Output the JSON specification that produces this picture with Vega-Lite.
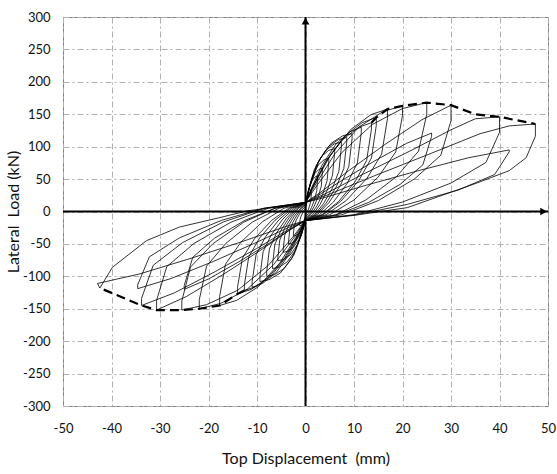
{
 "$schema": "https://vega.github.io/schema/vega-lite/v6.json",
 "width": 485,
 "height": 389,
 "autosize": "none",
 "padding": {"left": 63, "top": 17, "right": 9, "bottom": 68},
 "background": "white",
 "config": {
  "view": {"stroke": "#808080", "strokeWidth": 1},
  "font": "Lato",
  "axis": {"grid": true, "gridDash": [6,3,2,3], "gridColor": "#b0b0b0", "gridWidth": 1, "ticks": false, "domain": false,
   "labelExpr": "'' + datum.value", "labelFontSize": 13, "labelColor": "#111", "labelFlush": false, "labelOverlap": false,
   "titleFontSize": 16, "titleFontWeight": "normal", "titleColor": "#111"},
  "axisX": {"tickCount": 10, "labelPadding": 16, "titlePadding": 15},
  "axisY": {"tickCount": 12, "labelPadding": 13, "titlePadding": 1}
 },
 "datasets": {
  "loop": [
   {"x":0,"y":0},
   {"x":0.12,"y":7.5},{"x":0.36,"y":18.6},{"x":0.66,"y":25.8},{"x":0.96,"y":29.1},{"x":1.2,"y":30},{"x":1.2,"y":28},{"x":1.12,"y":17.4},{"x":0.9,"y":10.1},{"x":0.6,"y":3.4},{"x":0.3,"y":-2},{"x":0,"y":-5},
   {"x":-0.12,"y":-9.3},{"x":-0.36,"y":-15.5},{"x":-0.66,"y":-19.6},{"x":-0.96,"y":-21.5},{"x":-1.2,"y":-22},{"x":-1.2,"y":-20},{"x":-1.12,"y":-12.4},{"x":-0.9,"y":-7.2},{"x":-0.6,"y":-2.4},{"x":-0.3,"y":2},{"x":0,"y":5},
   {"x":0.25,"y":17.5},{"x":0.75,"y":36},{"x":1.38,"y":48},{"x":2.0,"y":53.5},{"x":2.5,"y":55},{"x":2.5,"y":52},{"x":2.33,"y":32.2},{"x":1.88,"y":18.7},{"x":1.25,"y":6.2},{"x":0.63,"y":-3},{"x":0,"y":-8},
   {"x":-0.25,"y":-15.5},{"x":-0.75,"y":-26.6},{"x":-1.38,"y":-33.8},{"x":-2.0,"y":-37.1},{"x":-2.5,"y":-38},{"x":-2.5,"y":-35},{"x":-2.33,"y":-21.7},{"x":-1.88,"y":-12.6},{"x":-1.25,"y":-4.2},{"x":-0.63,"y":3},{"x":0,"y":8},
   {"x":0.35,"y":22.8},{"x":1.05,"y":44.6},{"x":1.93,"y":58.7},{"x":2.8,"y":65.2},{"x":3.5,"y":67},{"x":3.5,"y":63},{"x":3.26,"y":39.1},{"x":2.63,"y":22.7},{"x":1.75,"y":7.6},{"x":0.88,"y":-4},{"x":0,"y":-10},
   {"x":-0.35,"y":-20},{"x":-1.05,"y":-34.8},{"x":-1.93,"y":-44.4},{"x":-2.8,"y":-48.8},{"x":-3.5,"y":-50},{"x":-3.5,"y":-47},{"x":-3.26,"y":-29.1},{"x":-2.63,"y":-16.9},{"x":-1.75,"y":-5.6},{"x":-0.88,"y":4},{"x":0,"y":10},
   {"x":0.48,"y":28},{"x":1.44,"y":54.6},{"x":2.64,"y":71.9},{"x":3.84,"y":79.8},{"x":4.8,"y":82},{"x":4.8,"y":77},{"x":4.46,"y":47.7},{"x":3.6,"y":27.7},{"x":2.4,"y":9.2},{"x":1.2,"y":-4},{"x":0,"y":-11},
   {"x":-0.46,"y":-24},{"x":-1.38,"y":-43.2},{"x":-2.53,"y":-55.7},{"x":-3.68,"y":-61.4},{"x":-4.6,"y":-63},{"x":-4.6,"y":-59},{"x":-4.28,"y":-36.6},{"x":-3.45,"y":-21.2},{"x":-2.3,"y":-7.1},{"x":-1.15,"y":4},{"x":0,"y":11},
   {"x":0.6,"y":32.5},{"x":1.8,"y":64.3},{"x":3.3,"y":85},{"x":4.8,"y":94.4},{"x":6,"y":97},{"x":6,"y":91},{"x":5.58,"y":56.4},{"x":4.5,"y":32.8},{"x":3,"y":10.9},{"x":1.5,"y":-5},{"x":0,"y":-12},
   {"x":-0.57,"y":-28},{"x":-1.71,"y":-51.7},{"x":-3.14,"y":-67},{"x":-4.56,"y":-74.1},{"x":-5.7,"y":-76},{"x":-5.7,"y":-71},{"x":-5.3,"y":-44},{"x":-4.28,"y":-25.6},{"x":-2.85,"y":-8.5},{"x":-1.43,"y":5},{"x":0,"y":12},
   {"x":0.74,"y":35.8},{"x":2.22,"y":70.9},{"x":4.07,"y":93.7},{"x":5.92,"y":104.2},{"x":7.4,"y":107},{"x":7.4,"y":100},{"x":6.88,"y":62},{"x":5.55,"y":36},{"x":3.7,"y":12},{"x":1.85,"y":-5},{"x":0,"y":-13},
   {"x":-0.68,"y":-31.8},{"x":-2.04,"y":-59.5},{"x":-3.74,"y":-77.5},{"x":-5.44,"y":-85.8},{"x":-6.8,"y":-88},{"x":-6.8,"y":-82},{"x":-6.32,"y":-50.8},{"x":-5.1,"y":-29.5},{"x":-3.4,"y":-9.8},{"x":-1.7,"y":5},{"x":0,"y":13},
   {"x":0.85,"y":38.3},{"x":2.55,"y":75.6},{"x":4.68,"y":99.9},{"x":6.8,"y":111},{"x":8.5,"y":114},{"x":8.5,"y":107},{"x":7.9,"y":66.3},{"x":6.38,"y":38.5},{"x":4.25,"y":12.8},{"x":2.13,"y":-5},{"x":0,"y":-14},
   {"x":-0.8,"y":-35.5},{"x":-2.4,"y":-67.3},{"x":-4.4,"y":-88},{"x":-6.4,"y":-97.4},{"x":-8,"y":-100},{"x":-8,"y":-93},{"x":-7.44,"y":-57.7},{"x":-6,"y":-33.5},{"x":-4,"y":-11.2},{"x":-2,"y":5},{"x":0,"y":14},
   {"x":0.96,"y":40.5},{"x":2.88,"y":79.7},{"x":5.28,"y":105.2},{"x":7.68,"y":116.8},{"x":9.6,"y":120},{"x":9.6,"y":112},{"x":8.93,"y":69.4},{"x":7.2,"y":40.3},{"x":4.8,"y":13.4},{"x":2.4,"y":-5},{"x":0,"y":-14},
   {"x":-0.94,"y":-37.5},{"x":-2.82,"y":-72.3},{"x":-5.17,"y":-94.8},{"x":-7.52,"y":-105.2},{"x":-9.4,"y":-108},{"x":-9.4,"y":-100},{"x":-8.74,"y":-62},{"x":-7.05,"y":-36},{"x":-4.7,"y":-12},{"x":-2.35,"y":5},{"x":0,"y":14},
   {"x":1.15,"y":34.9},{"x":3.45,"y":72},{"x":6.33,"y":104.5},{"x":9.2,"y":123},{"x":11.5,"y":130},{"x":11.5,"y":121},{"x":10.7,"y":75},{"x":8.63,"y":43.6},{"x":5.75,"y":14.5},{"x":2.88,"y":-5},{"x":0,"y":-14},
   {"x":-1.1,"y":-32.5},{"x":-3.3,"y":-65.5},{"x":-6.05,"y":-94.3},{"x":-8.8,"y":-110.8},{"x":-11,"y":-117},{"x":-11,"y":-108},{"x":-10.2,"y":-67},{"x":-8.25,"y":-38.9},{"x":-5.5,"y":-13},{"x":-2.75,"y":5},{"x":0,"y":14},
   {"x":1.36,"y":36.1},{"x":4.08,"y":75.5},{"x":7.48,"y":110},{"x":10.9,"y":129.6},{"x":13.6,"y":137},{"x":13.6,"y":127},{"x":12.6,"y":78.7},{"x":10.2,"y":45.7},{"x":6.8,"y":15.2},{"x":3.4,"y":-5},{"x":0,"y":-14},
   {"x":-1.26,"y":-33.4},{"x":-3.78,"y":-68},{"x":-6.93,"y":-98.2},{"x":-10.1,"y":-115.5},{"x":-12.6,"y":-122},{"x":-12.6,"y":-113},{"x":-11.7,"y":-70},{"x":-9.45,"y":-40.7},{"x":-6.3,"y":-13.6},{"x":-3.15,"y":5},{"x":0,"y":14},
   {"x":1.46,"y":37.6},{"x":4.38,"y":79.5},{"x":8.03,"y":116.2},{"x":11.7,"y":137.1},{"x":14.6,"y":145},{"x":14.6,"y":133},{"x":13.6,"y":82.5},{"x":11,"y":47.9},{"x":7.3,"y":16},{"x":3.65,"y":-5},{"x":0,"y":-14},
   {"x":-1.4,"y":-34.3},{"x":-4.2,"y":-70.5},{"x":-7.7,"y":-102.1},{"x":-11.2,"y":-120.2},{"x":-14,"y":-127},{"x":-14,"y":-116},{"x":-13,"y":-71.9},{"x":-10.5,"y":-41.8},{"x":-7,"y":-13.9},{"x":-3.5,"y":5},{"x":0,"y":14},
   {"x":1.69,"y":39.9},{"x":5.07,"y":86},{"x":9.3,"y":126.3},{"x":13.5,"y":149.4},{"x":16.9,"y":158},{"x":16.9,"y":143},{"x":15.7,"y":88.7},{"x":12.7,"y":51.5},{"x":8.45,"y":17.2},{"x":4.23,"y":-5},{"x":0,"y":-14},
   {"x":-1.77,"y":-37.6},{"x":-5.31,"y":-79.5},{"x":-9.74,"y":-116.2},{"x":-14.2,"y":-137.1},{"x":-17.7,"y":-145},{"x":-17.7,"y":-131},{"x":-16.5,"y":-81.2},{"x":-13.3,"y":-47.2},{"x":-8.85,"y":-15.7},{"x":-4.43,"y":5},{"x":0,"y":14},
   {"x":2,"y":40.8},{"x":6,"y":88.5},{"x":11,"y":130.2},{"x":16,"y":154.1},{"x":20,"y":163},{"x":20,"y":148},{"x":18.6,"y":91.8},{"x":15,"y":53.3},{"x":10,"y":17.8},{"x":5,"y":-5},{"x":0,"y":-14},
   {"x":-2.19,"y":-38.5},{"x":-6.57,"y":-82},{"x":-12.05,"y":-120.1},{"x":-17.5,"y":-141.8},{"x":-21.9,"y":-150},{"x":-21.9,"y":-136},{"x":-20.4,"y":-84.3},{"x":-16.4,"y":-49},{"x":-10.95,"y":-16.3},{"x":-5.48,"y":5},{"x":0,"y":14},
   {"x":2.5,"y":41.7},{"x":7.5,"y":91},{"x":13.75,"y":134.1},{"x":20,"y":158.8},{"x":25,"y":168},{"x":25,"y":150},{"x":23.3,"y":93},{"x":18.8,"y":54},{"x":12.5,"y":18},{"x":6.25,"y":-5},{"x":0,"y":-14},
   {"x":-2.55,"y":-38.8},{"x":-7.65,"y":-83},{"x":-14,"y":-121.6},{"x":-20.4,"y":-143.7},{"x":-25.5,"y":-152},{"x":-25.5,"y":-138},{"x":-23.7,"y":-85.6},{"x":-19.1,"y":-49.7},{"x":-12.75,"y":-16.6},{"x":-6.38,"y":5},{"x":0,"y":14},
   {"x":2.6,"y":24.7},{"x":7.8,"y":49.3},{"x":14.3,"y":78.2},{"x":20.8,"y":105},{"x":26,"y":121},{"x":26,"y":116},{"x":24.2,"y":71.9},{"x":19.5,"y":41.8},{"x":13,"y":13.9},{"x":6.5,"y":-5},{"x":0,"y":-14},
   {"x":-2.5,"y":-24.6},{"x":-7.5,"y":-49},{"x":-13.75,"y":-77.6},{"x":-20,"y":-104.1},{"x":-25,"y":-120},{"x":-25,"y":-114},{"x":-23.25,"y":-70.7},{"x":-18.75,"y":-41},{"x":-12.5,"y":-13.7},{"x":-6.25,"y":5},{"x":0,"y":14},
   {"x":3,"y":29},{"x":9,"y":63.5},{"x":16.5,"y":104},{"x":24,"y":141.5},{"x":30,"y":164},{"x":30,"y":140},{"x":27.9,"y":86.8},{"x":22.5,"y":50.4},{"x":15,"y":16.8},{"x":7.5,"y":-5},{"x":0,"y":-14},
   {"x":-3.07,"y":-27.8},{"x":-9.21,"y":-59.5},{"x":-16.9,"y":-96.8},{"x":-24.6,"y":-131.3},{"x":-30.7,"y":-152},{"x":-30.7,"y":-137},{"x":-28.6,"y":-85},{"x":-23,"y":-49.3},{"x":-15.35,"y":-16.4},{"x":-7.68,"y":5},{"x":0,"y":14},
   {"x":4,"y":27},{"x":12,"y":58},{"x":22,"y":95},{"x":30,"y":126},{"x":35,"y":143},{"x":40,"y":146},{"x":40,"y":122},{"x":37.2,"y":75.6},{"x":30,"y":43.9},{"x":20,"y":14.6},{"x":10,"y":-5},{"x":0,"y":-14},
   {"x":-3.38,"y":-27.1},{"x":-10.1,"y":-57.2},{"x":-18.6,"y":-92.6},{"x":-27,"y":-125.4},{"x":-33.8,"y":-145},{"x":-33.8,"y":-134},{"x":-31.4,"y":-83},{"x":-25.4,"y":-48.2},{"x":-16.9,"y":-16},{"x":-8.45,"y":5},{"x":0,"y":14},
   {"x":4.2,"y":22.1},{"x":12.6,"y":40.7},{"x":23.1,"y":62.6},{"x":33.6,"y":82.9},{"x":42,"y":95},{"x":42,"y":92},{"x":39,"y":57},{"x":31.5,"y":33.1},{"x":21,"y":11},{"x":10.5,"y":-5},{"x":0,"y":-14},
   {"x":-3.46,"y":-24.5},{"x":-10.4,"y":-48.7},{"x":-19,"y":-77},{"x":-27.7,"y":-103.3},{"x":-34.6,"y":-119},{"x":-34.6,"y":-113},{"x":-32.2,"y":-70},{"x":-26,"y":-40.7},{"x":-17.3,"y":-13.6},{"x":-8.65,"y":5},{"x":0,"y":14},
   {"x":4.7,"y":26},{"x":14.2,"y":55},{"x":26,"y":90},{"x":36,"y":120},{"x":42,"y":132},{"x":47.4,"y":135},{"x":47.4,"y":116},{"x":45.5,"y":83},{"x":42,"y":63},{"x":35,"y":43},{"x":21,"y":6},{"x":10,"y":-6},{"x":0,"y":-14},
   {"x":-4.3,"y":-23.7},{"x":-12.9,"y":-46},{"x":-23.6,"y":-72.2},{"x":-34.3,"y":-96.5},{"x":-42.9,"y":-111},{"x":-42.4,"y":-118},{"x":-39.8,"y":-86},{"x":-32.8,"y":-45},{"x":-26,"y":-24},{"x":-18,"y":-10},{"x":-12,"y":1},{"x":0,"y":13}
  ],
  "env": [
   {"s":"p","x":13.6,"y":137},{"s":"p","x":14.6,"y":145},{"s":"p","x":16.9,"y":158},{"s":"p","x":20,"y":163},{"s":"p","x":25,"y":168},{"s":"p","x":30,"y":164},{"s":"p","x":35,"y":150},{"s":"p","x":40,"y":146},{"s":"p","x":47.4,"y":135},
   {"s":"n","x":-12.6,"y":-122},{"s":"n","x":-14,"y":-127},{"s":"n","x":-17.7,"y":-145},{"s":"n","x":-21.9,"y":-150},{"s":"n","x":-25.5,"y":-152},{"s":"n","x":-30.7,"y":-152},{"s":"n","x":-33.8,"y":-145},{"s":"n","x":-42.4,"y":-118}
  ],
  "one": [{"k": 1}]
 },
 "layer": [
  {
   "data": {"name": "loop"},
   "mark": {"type": "line", "color": "#000", "strokeWidth": 0.8, "strokeJoin": "round"},
   "encoding": {
    "x": {"field": "x", "type": "quantitative", "title": "Top Displacement\u00a0 (mm)", "scale": {"domain": [-50, 50], "nice": false, "zero": false}},
    "y": {"field": "y", "type": "quantitative", "title": "Lateral\u00a0 Load (kN)", "scale": {"domain": [-300, 300], "nice": false, "zero": false}},
    "order": {"value": null}
   }
  },
  {
   "data": {"name": "env"},
   "mark": {"type": "line", "color": "#000", "strokeWidth": 2.2, "strokeDash": [9, 5]},
   "encoding": {
    "x": {"field": "x", "type": "quantitative", "title": "Top Displacement\u00a0 (mm)"},
    "y": {"field": "y", "type": "quantitative", "title": "Lateral\u00a0 Load (kN)"},
    "detail": {"field": "s"},
    "order": {"value": null}
   }
  },
  {
   "data": {"name": "one"},
   "mark": {"type": "rule", "color": "#000", "strokeWidth": 2},
   "encoding": {"x": {"datum": 0, "type": "quantitative", "title": "Top Displacement\u00a0 (mm)"}}
  },
  {
   "data": {"name": "one"},
   "mark": {"type": "rule", "color": "#000", "strokeWidth": 2},
   "encoding": {"y": {"datum": 0, "type": "quantitative", "title": "Lateral\u00a0 Load (kN)"}}
  },
  {
   "data": {"name": "one"},
   "mark": {"type": "point", "shape": "triangle-up", "filled": true, "size": 60, "color": "#000", "opacity": 1},
   "encoding": {"x": {"datum": 0, "type": "quantitative", "title": "Top Displacement\u00a0 (mm)"}, "y": {"datum": 293.5, "type": "quantitative", "title": "Lateral\u00a0 Load (kN)"}}
  },
  {
   "data": {"name": "one"},
   "mark": {"type": "point", "shape": "triangle-right", "filled": true, "size": 60, "color": "#000", "opacity": 1},
   "encoding": {"x": {"datum": 49.1, "type": "quantitative", "title": "Top Displacement\u00a0 (mm)"}, "y": {"datum": 0, "type": "quantitative", "title": "Lateral\u00a0 Load (kN)"}}
  }
 ]
}
